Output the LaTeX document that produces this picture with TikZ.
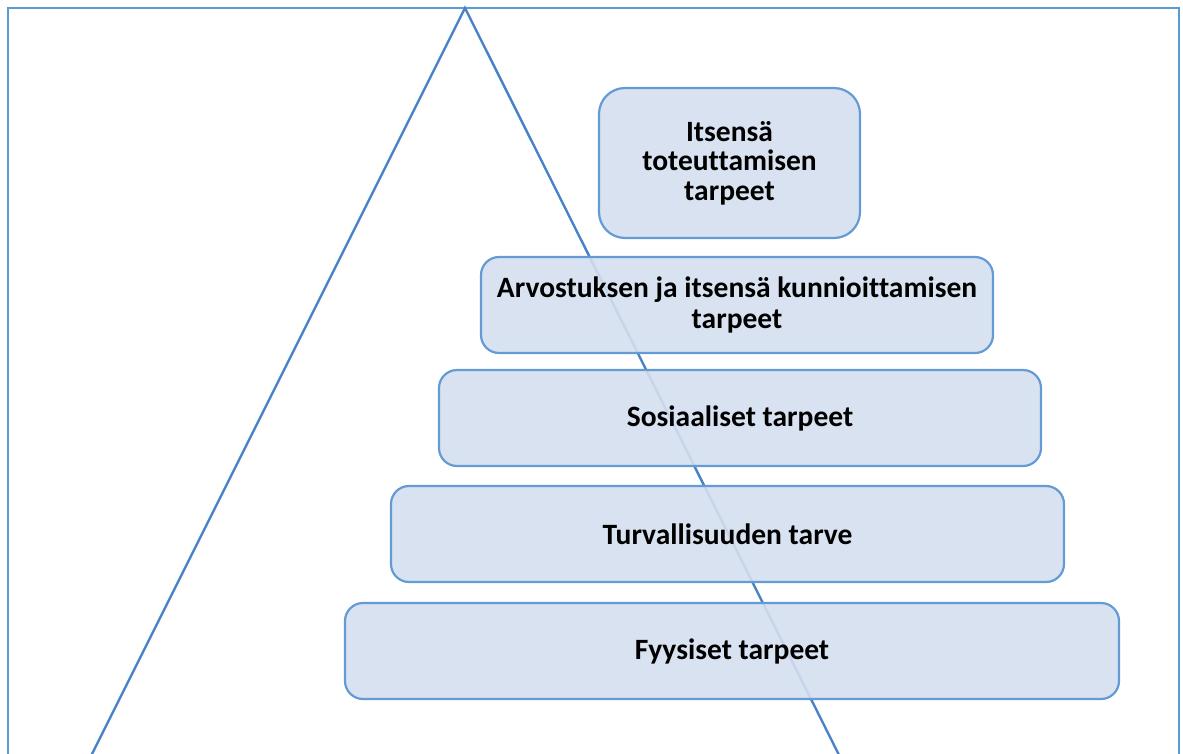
\documentclass[tikz,border=0pt]{standalone}
\usepackage{fontspec}
\setmainfont[Ligatures=NoCommon]{Carlito}
\definecolor{framecol}{RGB}{91,155,213}
\definecolor{tricol}{RGB}{70,130,196}
\definecolor{boxfill}{RGB}{212,223,239}
\definecolor{boxline}{RGB}{100,155,213}
\tikzset{
  level/.style={draw=boxline, line width=2.2pt, fill=boxfill, fill opacity=0.9, text opacity=1,
    rounded corners=18pt, inner sep=0pt, align=center,
    font=\fontsize{29.5}{31}\selectfont\bfseries, text=black},
}
\begin{document}
\begin{tikzpicture}[x=1pt,y=-1pt]
\useasboundingbox (0,0) rectangle (1183,753);
\clip (0,0) rectangle (1183,753);
\draw[framecol, line width=2.6pt] (8,760) -- (8,8) -- (1179,8) -- (1179,760);
\coordinate (apex) at (465,8);
\coordinate (lfoot) at (89,760);
\coordinate (rfoot) at (841.5,760);
\draw[tricol, line width=2.4pt, line join=miter] (lfoot) -- (apex) -- (rfoot);
\node[level, minimum width=261pt, minimum height=150pt, rounded corners=26pt,
  font=\fontsize{29.5}{29.5}\selectfont\bfseries] (n1) at (729.5,163) {Itsensä\\toteuttamisen\\tarpeet};
\node[level, minimum width=512pt, minimum height=96pt] (n2) at (737,305) {Arvostuksen ja itsensä kunnioittamisen\\tarpeet};
\node[level, minimum width=602pt, minimum height=96pt] (n3) at (740,418) {Sosiaaliset tarpeet};
\node[level, minimum width=673pt, minimum height=96pt] (n4) at (727.5,534) {Turvallisuuden tarve};
\node[level, minimum width=774pt, minimum height=96pt] (n5) at (732,651) {Fyysiset tarpeet};
\end{tikzpicture}
\end{document}
